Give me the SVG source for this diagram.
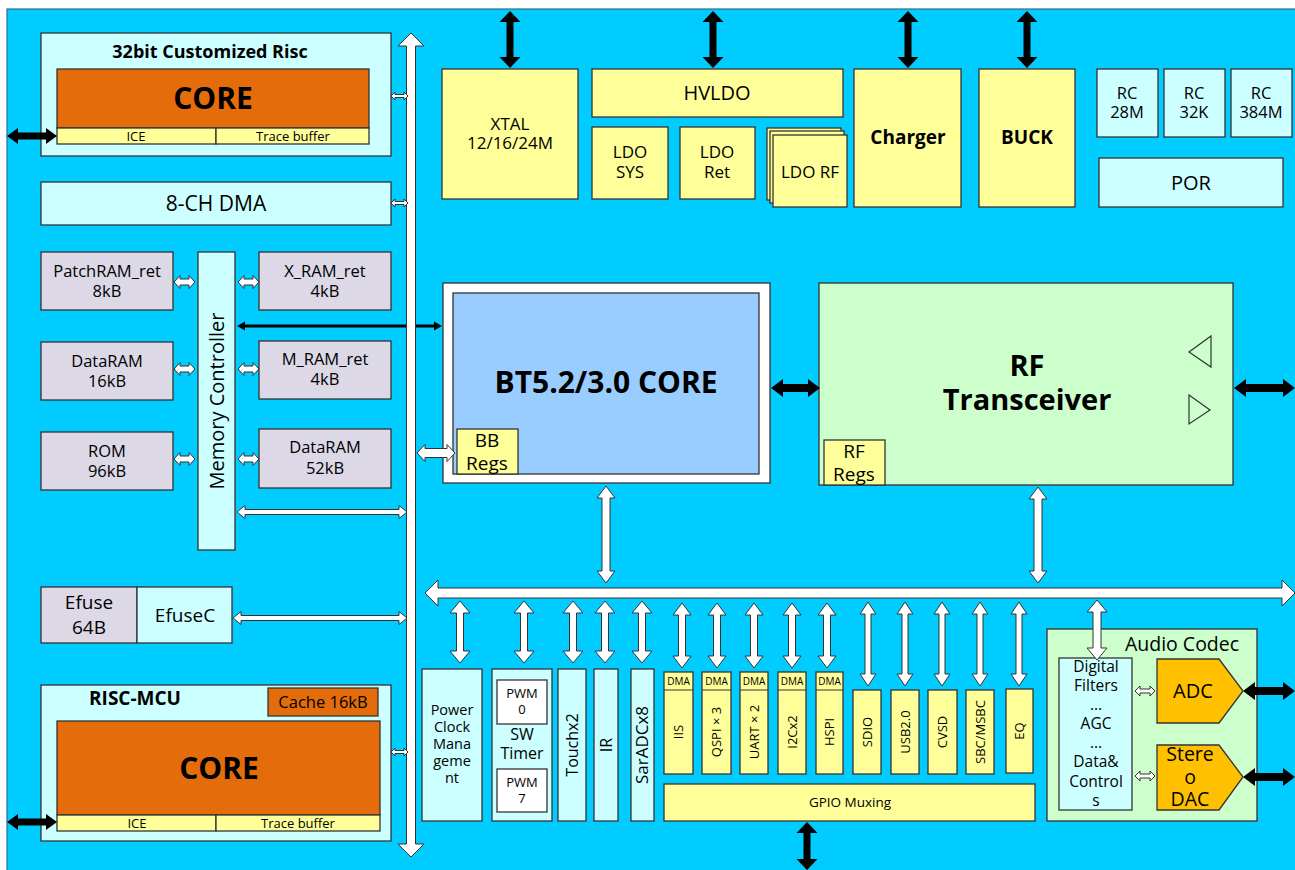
<svg xmlns="http://www.w3.org/2000/svg" width="1295" height="870" viewBox="0 0 1295 870">
<style>
.b{stroke:#333;stroke-width:1.3}
.cy{fill:#CCFFFF}.ye{fill:#FFFF99}.or{fill:#E46C0A}.la{fill:#DCD8E6}.gr{fill:#CCFFCC}.bl{fill:#99CCFF}.go{fill:#FFC000}.wh{fill:#FFFFFF}
.wa{fill:#FFFFFF;stroke:#333;stroke-width:1}
.ba{fill:#000}
text{font-family:"Open Sans","Liberation Sans",sans-serif;fill:#000;text-anchor:middle}
.bd{font-weight:bold}
</style>
<rect x="0" y="0" width="1295" height="870" fill="#FFFFFF"/>
<rect x="7" y="9" width="1290" height="863" fill="#00CCFF" stroke="#2a6f8a" stroke-width="1.2"/>

<g id="risc32">
  <rect class="b cy" x="41" y="33" width="350" height="123"/>
  <text class="bd" x="210" y="58" font-size="18">32bit Customized Risc</text>
  <rect class="b or" x="57" y="69" width="312" height="59"/>
  <text class="bd" x="213" y="109" font-size="30">CORE</text>
  <rect class="b ye" x="57" y="128" width="159" height="16"/>
  <rect class="b ye" x="216" y="128" width="153" height="16"/>
  <text x="136" y="141" font-size="13">ICE</text>
  <text x="293" y="141" font-size="13">Trace buffer</text>
</g>
<g id="dma8">
  <rect class="b cy" x="41" y="182" width="350" height="43"/>
  <text x="216" y="211" font-size="21">8-CH DMA</text>
</g>
<g id="patchram">
  <rect class="b la" x="41" y="252" width="132" height="58"/>
  <text x="107" y="277" font-size="16.5">PatchRAM_ret</text>
  <text x="107" y="297" font-size="16.5">8kB</text>
</g>
<g id="dataram16">
  <rect class="b la" x="41" y="342" width="132" height="58"/>
  <text x="107" y="367" font-size="16.5">DataRAM</text>
  <text x="107" y="387" font-size="16.5">16kB</text>
</g>
<g id="rom">
  <rect class="b la" x="41" y="432" width="132" height="58"/>
  <text x="107" y="457" font-size="16.5">ROM</text>
  <text x="107" y="477" font-size="16.5">96kB</text>
</g>
<g id="memctrl">
  <rect class="b cy" x="198" y="252" width="37" height="298"/>
  <text transform="translate(216.5,401) rotate(-90)" y="7" font-size="20">Memory Controller</text>
</g>
<g id="xram">
  <rect class="b la" x="259" y="252" width="132" height="58"/>
  <text x="325" y="277" font-size="16.5">X_RAM_ret</text>
  <text x="325" y="297" font-size="16.5">4kB</text>
</g>
<g id="mram">
  <rect class="b la" x="259" y="341" width="132" height="58"/>
  <text x="325" y="365" font-size="16.5">M_RAM_ret</text>
  <text x="325" y="385" font-size="16.5">4kB</text>
</g>
<g id="dataram52">
  <rect class="b la" x="259" y="429" width="132" height="59"/>
  <text x="325" y="453" font-size="16.5">DataRAM</text>
  <text x="325" y="474" font-size="16.5">52kB</text>
</g>
<g id="efuse">
  <rect class="b la" x="41" y="587" width="96" height="56"/>
  <text x="89" y="609" font-size="19">Efuse</text>
  <text x="89" y="634" font-size="19">64B</text>
  <rect class="b cy" x="137" y="587" width="95" height="56"/>
  <text x="185" y="622" font-size="19">EfuseC</text>
</g>
<g id="riscmcu">
  <rect class="b cy" x="41" y="685" width="350" height="156"/>
  <text class="bd" x="135" y="705" font-size="19">RISC-MCU</text>
  <rect class="b or" x="268" y="688" width="110" height="28"/>
  <text x="323" y="708" font-size="16.5">Cache 16kB</text>
  <rect class="b or" x="57" y="721" width="323" height="94"/>
  <text class="bd" x="219" y="779" font-size="30">CORE</text>
  <rect class="b ye" x="57" y="815" width="159" height="16"/>
  <rect class="b ye" x="216" y="815" width="164" height="16"/>
  <text x="137" y="828" font-size="13">ICE</text>
  <text x="298" y="828" font-size="13">Trace buffer</text>
</g>

<g id="xtal">
  <rect class="b ye" x="442" y="69" width="136" height="130"/>
  <text x="510" y="130" font-size="17">XTAL</text>
  <text x="510" y="149" font-size="17">12/16/24M</text>
</g>
<g id="hvldo">
  <rect class="b ye" x="592" y="69" width="251" height="48"/>
  <text x="717" y="100" font-size="20">HVLDO</text>
</g>
<g id="ldosys">
  <rect class="b ye" x="592" y="127" width="76" height="72"/>
  <text x="630" y="158" font-size="17">LDO</text>
  <text x="630" y="178" font-size="17">SYS</text>
</g>
<g id="ldoret">
  <rect class="b ye" x="680" y="127" width="75" height="72"/>
  <text x="717" y="158" font-size="17">LDO</text>
  <text x="717" y="178" font-size="17">Ret</text>
</g>
<g id="ldorf">
  <rect class="b ye" x="767" y="128" width="74" height="72"/>
  <rect class="b ye" x="770" y="131" width="74" height="72"/>
  <rect class="b ye" x="773" y="135" width="74" height="72"/>
  <text x="810" y="178" font-size="17">LDO RF</text>
</g>
<g id="charger">
  <rect class="b ye" x="854" y="69" width="107" height="138"/>
  <text class="bd" x="908" y="144" font-size="19">Charger</text>
</g>
<g id="buck">
  <rect class="b ye" x="979" y="69" width="96" height="138"/>
  <text class="bd" x="1027" y="144" font-size="19">BUCK</text>
</g>
<g id="rc28">
  <rect class="b cy" x="1097" y="69" width="61" height="68"/>
  <text x="1127" y="99" font-size="16.5">RC</text>
  <text x="1127" y="118" font-size="16.5">28M</text>
</g>
<g id="rc32">
  <rect class="b cy" x="1164" y="69" width="61" height="68"/>
  <text x="1194" y="99" font-size="16.5">RC</text>
  <text x="1194" y="118" font-size="16.5">32K</text>
</g>
<g id="rc384">
  <rect class="b cy" x="1231" y="69" width="61" height="68"/>
  <text x="1261" y="99" font-size="16.5">RC</text>
  <text x="1261" y="118" font-size="16.5">384M</text>
</g>
<g id="por">
  <rect class="b cy" x="1099" y="158" width="184" height="49"/>
  <text x="1191" y="190" font-size="20">POR</text>
</g>

<g id="btcore">
  <rect class="b wh" x="443" y="283" width="327" height="200"/>
  <rect class="b bl" x="453" y="293" width="306" height="181"/>
  <text class="bd" x="606" y="393" font-size="30">BT5.2/3.0 CORE</text>
  <rect class="b ye" x="457" y="429" width="61" height="45"/>
  <text x="487" y="447" font-size="19">BB</text>
  <text x="487" y="470" font-size="19">Regs</text>
</g>
<g id="rf">
  <rect class="b gr" x="819" y="283" width="414" height="202"/>
  <text class="bd" x="1027" y="376" font-size="29">RF</text>
  <text class="bd" x="1027" y="410" font-size="29">Transceiver</text>
  <polygon points="1189,352 1211,336 1211,367" fill="none" stroke="#333" stroke-width="1.2"/>
  <polygon points="1189,395 1210,410 1189,424" fill="none" stroke="#333" stroke-width="1.2"/>
  <rect class="b ye" x="824" y="440" width="61" height="45"/>
  <text x="854" y="458" font-size="19">RF</text>
  <text x="854" y="481" font-size="19">Regs</text>
</g>

<g id="pcm">
  <rect class="b cy" x="422" y="669" width="60" height="152"/>
  <text x="452" y="715" font-size="14.5">Power</text>
  <text x="452" y="732" font-size="14.5">Clock</text>
  <text x="452" y="749" font-size="14.5">Mana</text>
  <text x="452" y="766" font-size="14.5">geme</text>
  <text x="452" y="783" font-size="14.5">nt</text>
</g>
<g id="swtimer">
  <rect class="b cy" x="492" y="669" width="60" height="152"/>
  <rect class="b wh" x="497" y="680" width="50" height="44"/>
  <text x="522" y="698" font-size="13">PWM</text>
  <text x="522" y="714" font-size="13">0</text>
  <text x="522" y="740" font-size="16">SW</text>
  <text x="522" y="759" font-size="16">Timer</text>
  <rect class="b wh" x="497" y="769" width="50" height="43"/>
  <text x="522" y="787" font-size="13">PWM</text>
  <text x="522" y="803" font-size="13">7</text>
</g>
<g id="touch">
  <rect class="b cy" x="558" y="669" width="28" height="152"/>
  <text transform="translate(572,745) rotate(-90)" y="5.5" font-size="16">Touchx2</text>
</g>
<g id="ir">
  <rect class="b cy" x="594" y="669" width="24" height="152"/>
  <text transform="translate(606,745) rotate(-90)" y="5.5" font-size="16">IR</text>
</g>
<g id="saradc">
  <rect class="b cy" x="631" y="669" width="23" height="152"/>
  <text transform="translate(642.5,745) rotate(-90)" y="5.5" font-size="17">SarADCx8</text>
</g>
<g id="iis">
  <rect class="b ye" x="664" y="672" width="29" height="102"/>
  <line x1="664" y1="690" x2="693" y2="690" stroke="#333" stroke-width="1"/>
  <text x="678.5" y="685" font-size="10">DMA</text>
  <text transform="translate(678.5,732) rotate(-90)" y="4.5" font-size="13">IIS</text>
</g>
<g id="qspi">
  <rect class="b ye" x="702" y="672" width="29" height="102"/>
  <line x1="702" y1="690" x2="731" y2="690" stroke="#333" stroke-width="1"/>
  <text x="716.5" y="685" font-size="10">DMA</text>
  <text transform="translate(716.5,732) rotate(-90)" y="4.5" font-size="13">QSPI × 3</text>
</g>
<g id="uart">
  <rect class="b ye" x="740" y="672" width="28" height="102"/>
  <line x1="740" y1="690" x2="768" y2="690" stroke="#333" stroke-width="1"/>
  <text x="754" y="685" font-size="10">DMA</text>
  <text transform="translate(754,732) rotate(-90)" y="4.5" font-size="13">UART × 2</text>
</g>
<g id="i2c">
  <rect class="b ye" x="778" y="672" width="28" height="102"/>
  <line x1="778" y1="690" x2="806" y2="690" stroke="#333" stroke-width="1"/>
  <text x="792" y="685" font-size="10">DMA</text>
  <text transform="translate(792,732) rotate(-90)" y="4.5" font-size="13">I2Cx2</text>
</g>
<g id="hspi">
  <rect class="b ye" x="816" y="672" width="27" height="102"/>
  <line x1="816" y1="690" x2="843" y2="690" stroke="#333" stroke-width="1"/>
  <text x="829.5" y="685" font-size="10">DMA</text>
  <text transform="translate(829.5,732) rotate(-90)" y="4.5" font-size="13">HSPI</text>
</g>
<g id="sdio">
  <rect class="b ye" x="853" y="690" width="28" height="84"/>
  <text transform="translate(867,732) rotate(-90)" y="4.5" font-size="13">SDIO</text>
</g>
<g id="usb">
  <rect class="b ye" x="891" y="690" width="28" height="84"/>
  <text transform="translate(905,732) rotate(-90)" y="4.5" font-size="13">USB2.0</text>
</g>
<g id="cvsd">
  <rect class="b ye" x="928" y="690" width="29" height="84"/>
  <text transform="translate(942.5,732) rotate(-90)" y="4.5" font-size="13">CVSD</text>
</g>
<g id="sbc">
  <rect class="b ye" x="966" y="690" width="28" height="84"/>
  <text transform="translate(980,732) rotate(-90)" y="4.5" font-size="13">SBC/MSBC</text>
</g>
<g id="eq">
  <rect class="b ye" x="1006" y="689" width="27" height="84"/>
  <text transform="translate(1019.5,731) rotate(-90)" y="4.5" font-size="13">EQ</text>
</g>
<g id="gpio">
  <rect class="b ye" x="664" y="784" width="371" height="37"/>
  <text x="850" y="807" font-size="13.5">GPIO Muxing</text>
</g>
<g id="audio">
  <rect class="b gr" x="1047" y="629" width="210" height="192"/>
  <text x="1182" y="651" font-size="19.5">Audio Codec</text>
  <rect class="b cy" x="1059" y="658" width="73" height="152"/>
  <text x="1096" y="672" font-size="15.5">Digital</text>
  <text x="1096" y="691" font-size="15.5">Filters</text>
  <text x="1096" y="710" font-size="15.5">...</text>
  <text x="1096" y="729" font-size="15.5">AGC</text>
  <text x="1096" y="748" font-size="15.5">...</text>
  <text x="1096" y="767" font-size="15.5">Data&amp;</text>
  <text x="1096" y="787" font-size="15.5">Control</text>
  <text x="1096" y="806" font-size="15.5">s</text>
  <polygon class="b go" points="1157,659 1219,659 1243,691 1219,723 1157,723"/>
  <text x="1193" y="698" font-size="20">ADC</text>
  <polygon class="b go" points="1157,745 1219,745 1243,777 1219,810 1157,810"/>
  <text x="1190" y="761" font-size="19.5">Stere</text>
  <text x="1190" y="784" font-size="19.5">o</text>
  <text x="1190" y="806" font-size="19.5">DAC</text>
</g>

<g id="connectors">
  <path class="ba" d="M510,11 l10.5,11 h-7 v35 h7 l-10.5,11 l-10.5,-11 h7 v-35 h-7 z"/>
  <path class="ba" d="M713,11 l10.5,11 h-7 v35 h7 l-10.5,11 l-10.5,-11 h7 v-35 h-7 z"/>
  <path class="ba" d="M908,11 l10.5,11 h-7 v35 h7 l-10.5,11 l-10.5,-11 h7 v-35 h-7 z"/>
  <path class="ba" d="M1027,11 l10.5,11 h-7 v35 h7 l-10.5,11 l-10.5,-11 h7 v-35 h-7 z"/>
  <path class="ba" d="M807,822 l10.5,11 h-7 v26 h7 l-10.5,11 l-10.5,-11 h7 v-26 h-7 z"/>
  <path class="ba" d="M7,136 l11,-8 v4.5 h28 v-4.5 l11,8 l-11,8 v-4.5 h-28 v4.5 z"/>
  <path class="ba" d="M7,822 l11,-8 v4.5 h28 v-4.5 l11,8 l-11,8 v-4.5 h-28 v4.5 z"/>
  <path class="ba" d="M771,388 l12,-9 v5 h25 v-5 l12,9 l-12,9 v-5 h-25 v5 z"/>
  <path class="ba" d="M1234,388 l12,-9 v5 h37 v-5 l12,9 l-12,9 v-5 h-37 v5 z"/>
  <path class="ba" d="M1243,691 l12,-9 v5 h28 v-5 l12,9 l-12,9 v-5 h-28 v5 z"/>
  <path class="ba" d="M1243,777 l12,-9 v5 h28 v-5 l12,9 l-12,9 v-5 h-28 v5 z"/>
  <path class="ba" d="M237,326 l8,-4.5 v3 h189 v-3 l8,4.5 l-8,4.5 v-3 h-189 v3 z"/>
  <path class="wa" d="M411,33 l13,13 h-8.5 v798 h8.5 l-13,13 l-13,-13 h8.5 v-798 h-8.5 z"/>
  <path class="wa" d="M425,593 l13,-13 v8 h844 v-8 l13,13 l-13,13 v-8 h-844 v8 z"/>
  <path class="wa" d="M391,96 l4,-4 v2.5 h9 v-2.5 l4,4 l-4,4 v-2.5 h-9 v2.5 z"/>
  <path class="wa" d="M391,203 l4,-4 v2.5 h9 v-2.5 l4,4 l-4,4 v-2.5 h-9 v2.5 z"/>
  <path class="wa" d="M391,752 l4,-4 v2.5 h9 v-2.5 l4,4 l-4,4 v-2.5 h-9 v2.5 z"/>
  <path class="wa" d="M174,282 l6,-6.5 v3.5 h9 v-3.5 l6,6.5 l-6,6.5 v-3.5 h-9 v3.5 z"/>
  <path class="wa" d="M174,369 l6,-6.5 v3.5 h9 v-3.5 l6,6.5 l-6,6.5 v-3.5 h-9 v3.5 z"/>
  <path class="wa" d="M174,459 l6,-6.5 v3.5 h9 v-3.5 l6,6.5 l-6,6.5 v-3.5 h-9 v3.5 z"/>
  <path class="wa" d="M238,282 l6,-6.5 v3.5 h9 v-3.5 l6,6.5 l-6,6.5 v-3.5 h-9 v3.5 z"/>
  <path class="wa" d="M238,369 l6,-6.5 v3.5 h9 v-3.5 l6,6.5 l-6,6.5 v-3.5 h-9 v3.5 z"/>
  <path class="wa" d="M238,459 l6,-6.5 v3.5 h9 v-3.5 l6,6.5 l-6,6.5 v-3.5 h-9 v3.5 z"/>
  <path class="wa" d="M237,512 l8,-6.5 v4 h154 v-4 l8,6.5 l-8,6.5 v-4 h-154 v4 z"/>
  <path class="wa" d="M233,618 l8,-6.5 v4 h158 v-4 l8,6.5 l-8,6.5 v-4 h-158 v4 z"/>
  <path class="wa" d="M417,453 l8,-8.5 v4 h22 v-4 l8,8.5 l-8,8.5 v-4 h-22 v4 z"/>
  <path class="wa" d="M606,486 l9,12 h-5 v73 h5 l-9,12 l-9,-12 h5 v-73 h-5 z"/>
  <path class="wa" d="M1038,487 l9,12 h-5 v72 h5 l-9,12 l-9,-12 h5 v-72 h-5 z"/>
  <path class="wa" d="M460,601 l10,12 h-6.5 v38 h6.5 l-10,12 l-10,-12 h6.5 v-38 h-6.5 z"/>
  <path class="wa" d="M524,601 l10,12 h-6.5 v38 h6.5 l-10,12 l-10,-12 h6.5 v-38 h-6.5 z"/>
  <path class="wa" d="M573,601 l10,12 h-6.5 v38 h6.5 l-10,12 l-10,-12 h6.5 v-38 h-6.5 z"/>
  <path class="wa" d="M605,601 l10,12 h-6.5 v38 h6.5 l-10,12 l-10,-12 h6.5 v-38 h-6.5 z"/>
  <path class="wa" d="M642,601 l10,12 h-6.5 v38 h6.5 l-10,12 l-10,-12 h6.5 v-38 h-6.5 z"/>
  <path class="wa" d="M682,603 l9,12 h-5.5 v41 h5.5 l-9,12 l-9,-12 h5.5 v-41 h-5.5 z"/>
  <path class="wa" d="M717,603 l9,12 h-5.5 v41 h5.5 l-9,12 l-9,-12 h5.5 v-41 h-5.5 z"/>
  <path class="wa" d="M754,603 l9,12 h-5.5 v41 h5.5 l-9,12 l-9,-12 h5.5 v-41 h-5.5 z"/>
  <path class="wa" d="M792,603 l9,12 h-5.5 v41 h5.5 l-9,12 l-9,-12 h5.5 v-41 h-5.5 z"/>
  <path class="wa" d="M827,603 l9,12 h-5.5 v41 h5.5 l-9,12 l-9,-12 h5.5 v-41 h-5.5 z"/>
  <path class="wa" d="M868,602 l8,12 h-5 v60 h5 l-8,12 l-8,-12 h5 v-60 h-5 z"/>
  <path class="wa" d="M905,602 l8,12 h-5 v60 h5 l-8,12 l-8,-12 h5 v-60 h-5 z"/>
  <path class="wa" d="M942,602 l8,12 h-5 v60 h5 l-8,12 l-8,-12 h5 v-60 h-5 z"/>
  <path class="wa" d="M980,602 l8,12 h-5 v60 h5 l-8,12 l-8,-12 h5 v-60 h-5 z"/>
  <path class="wa" d="M1019,602 l8,12 h-5 v60 h5 l-8,12 l-8,-12 h5 v-60 h-5 z"/>
  <path class="wa" d="M1097,600 l10,12 h-6 v36 h6 l-10,12 l-10,-12 h6 v-36 h-6 z"/>
  <path class="wa" d="M1135,691 l5,-5 v3 h10 v-3 l5,5 l-5,5 v-3 h-10 v3 z"/>
  <path class="wa" d="M1135,776 l5,-5 v3 h10 v-3 l5,5 l-5,5 v-3 h-10 v3 z"/>
</g>
</svg>
